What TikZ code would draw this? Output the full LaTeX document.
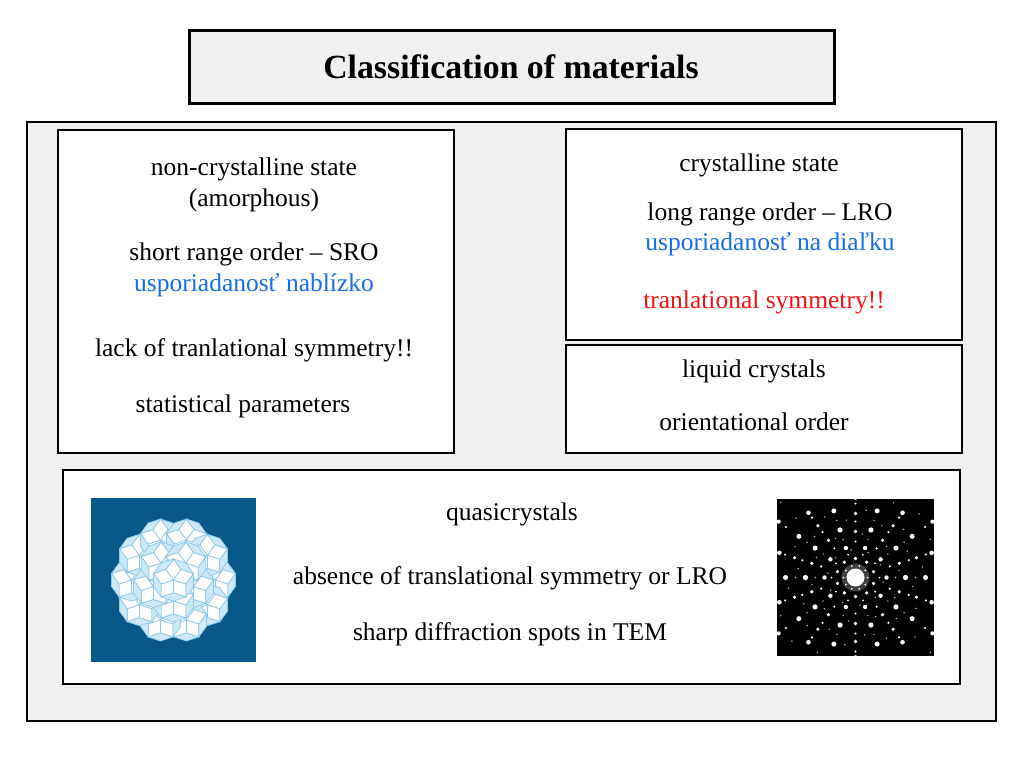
\documentclass[tikz,border=0pt]{standalone}
\usepackage{fontspec}
\setmainfont{Liberation Serif}
\usetikzlibrary{shapes,calc}
\definecolor{panelgray}{RGB}{240,240,240}
\definecolor{slovakblue}{RGB}{22,110,230}
\definecolor{symred}{RGB}{240,20,20}
\definecolor{tilebg}{RGB}{8,88,136}
\definecolor{tileline}{RGB}{140,200,232}
\definecolor{tilethin}{RGB}{205,232,246}

% one decagon of ten rhombi, centre in px
\newcommand\decarosette[2]{%
  \begin{scope}[shift={({#1},{#2})}]
    \foreach \a in {18,90,...,306}{
      \filldraw[fatrhomb] (0,0) -- (\a:13) -- ++(\a+72:13) -- (\a+72:13) -- cycle;
      \filldraw[thinrhomb] (\a:13) -- ++(\a+72:13) -- ++(\a-72:13) -- ++(\a+252:13) -- cycle;
    }
  \end{scope}}

\begin{document}
\begin{tikzpicture}[x=0.5pt,y=-0.5pt]
			\tikzstyle{panel}=[draw=black, line width=1pt, fill=white]
			\tikzstyle{txt}=[anchor=base, inner sep=0pt, font=\fontsize{12.75}{15}\selectfont]
			\tikzstyle{fatrhomb}=[draw=tileline, line width=0.35pt, fill=white]
			\tikzstyle{thinrhomb}=[draw=tileline, line width=0.35pt, fill=tilethin]
			\useasboundingbox (0,0) rectangle (1024,768);
			\fill[white] (0,0) rectangle (1024,768);

			% title
			\draw[line width=1.5pt, fill=panelgray] (189,30) rectangle (834,103);
			\node[txt, font=\fontsize{16.9}{20}\selectfont\bfseries] (title) at (511,78) {Classification of materials};

			% frame and boxes
			\draw[line width=1pt, fill=panelgray] (27,122) rectangle (996,721);
			\draw[panel] (58,130) rectangle (454,453);
			\draw[panel] (566,129) rectangle (962,340);
			\draw[panel] (566,345) rectangle (962,453);
			\draw[panel] (63,470) rectangle (960,684);

			% non-crystalline
			\node[txt] (noncryst) at (254,175) {non-crystalline state};
			\node[txt] (amorph) at (254,206) {(amorphous)};
			\node[txt] (sro) at (254,260) {short range order -- SRO};
			\node[txt, text=slovakblue] (sroSk) at (254,291) {usporiadanosť nablízko};
			\node[txt] (lack) at (254,356) {lack of tranlational symmetry!!};
			\node[txt] (stat) at (243,412) {statistical parameters};

			% crystalline
			\node[txt] (cryst) at (759,171) {crystalline state};
			\node[txt] (lro) at (770,220) {long range order -- LRO};
			\node[txt, text=slovakblue] (lroSk) at (770,250) {usporiadanosť na diaľku};
			\node[txt, text=symred] (transl) at (764,308) {tranlational symmetry!!};

			% liquid crystals
			\node[txt] (liq) at (754,377) {liquid crystals};
			\node[txt] (orient) at (754,430) {orientational order};

			% quasicrystals
			\node[txt] (quasi) at (512,520) {quasicrystals};
			\node[txt] (absence) at (510,584) {absence of translational symmetry or LRO};
			\node[txt] (sharp) at (510,640) {sharp diffraction spots in TEM};

			% penrose tiling
			\fill[tilebg] (91,498) rectangle (256,662);
			\begin{scope}
				\clip (91,498) rectangle (256,662);
				\foreach \t in {0,36,...,324}{
					\decarosette{173.5+42*cos(\t)}{580+42*sin(\t)}
				}
				\foreach \t in {18,90,...,306}{
					\decarosette{173.5+21*cos(\t)}{580+21*sin(\t)}
				}
				\decarosette{173.5}{580}
			\end{scope}

			% diffraction pattern
			\fill[black] (777,499) rectangle (934,656);
			\begin{scope}[shift={(855.5,577.5)}]
				\clip (-78.5,-78.5) rectangle (78.5,78.5);
				\foreach \rad/\sz/\off in {12/1/0, 19/1.8/18, 24/1/0, 31/2.2/0, 36/1.2/18, 46/1.8/18, 50/2.6/0, 56/1.2/18, 64/1.8/18, 70/2.5/0, 74/1.2/18, 80/2.3/18, 86/1.2/0, 95/2.1/0, 100/1.2/18}{
					\foreach \k in {0,...,9}{
						\fill[white] (\k*36+\off:\rad) circle (\sz);
					}
				}
				\foreach \rad/\off in {28/9, 40/0, 44/27, 58/9, 60/0, 68/27, 84/9, 90/27, 106/9}{
					\foreach \k in {0,...,9}{
						\fill[white!75!black] (\k*36+\off:\rad) circle (0.8);
					}
				}
				\fill[white, opacity=0.25] (0,0) circle (14);
				\fill[white] (0,0) circle (9);
			\end{scope}
		\end{tikzpicture}
\end{document}
